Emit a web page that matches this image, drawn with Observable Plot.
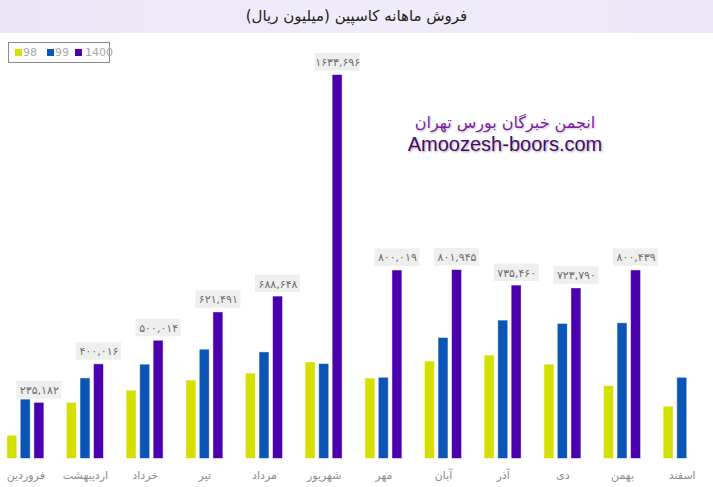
<!DOCTYPE html>
<html>
<head>
<meta charset="utf-8">
<script src="https://cdn.jsdelivr.net/npm/d3@7"></script>
<script src="https://cdn.jsdelivr.net/npm/@observablehq/plot@0.6"></script>
<style>
  body { margin: 0; background: #fff; }
  #wrap { position: relative; width: 713px; height: 487px; overflow: hidden; background: #fff; }
  #title { height: 33px; line-height: 33px; text-align: center; font-family: "DejaVu Sans", sans-serif; font-size: 15px; color: #222;
           background: linear-gradient(90deg, #ebe5f5, #f1ecf9 50%, #ece6f6); direction: rtl; }
  #legend { position: absolute; left: 8px; top: 42px; width: 100px; height: 19px; border: 1px solid #8a8a8a; background: #fff;
            font-family: "DejaVu Sans", sans-serif; font-size: 11px; color: #a8a8a8; }
  #legend span.sw { position: absolute; top: 6px; width: 7px; height: 7px; }
  #legend span.lb { position: absolute; top: 3px; line-height: 14px; }
  #wm { position: absolute; left: 400px; top: 112px; width: 210px; text-align: center; }
  #wm .fa { font-family: "DejaVu Sans", sans-serif; font-size: 16px; color: #7a1fa0; direction: rtl; line-height: 21px;
            text-shadow: 0 0 2px #fff, 1px 1px 2px #bbb; }
  #wm .en { font-family: "Liberation Sans", Arial, sans-serif; font-size: 20px; color: #45086f; line-height: 22px;
            text-shadow: 0 0 2px #fff, 1px 1px 2px #999; }
</style>
</head>
<body>
<div id="wrap">
  <div id="title"></div>
  <div id="chart"></div>
  <div id="legend"></div>
  <div id="wm"><div class="fa"></div><div class="en"></div></div>
</div>
<script>
const titleText = "فروش ماهانه کاسپین (میلیون ریال)";
const months = ["فروردین", "اردیبهشت", "خرداد", "تیر", "مرداد", "شهریور", "مهر", "آبان", "آذر", "دی", "بهمن", "اسفند"];
const seriesNames = ["98", "99", "1400"];
const seriesColors = ["#d6e000", "#0a55b6", "#4a00ae"];
const v98 = [95000, 235000, 287000, 331000, 360000, 408000, 339000, 411000, 437000, 398000, 307000, 219000];
const v99 = [249000, 340000, 398000, 462000, 451000, 401000, 342000, 512000, 586000, 572000, 575000, 342000];
const v1400 = [235182, 400016, 500014, 621491, 688648, 1633696, 800019, 801945, 735460, 723790, 800439, null];
const watermarkFa = "انجمن خبرگان بورس تهران";
const watermarkEn = "Amoozesh-boors.com";

const seriesValues = [v98, v99, v1400];
const rows = [];
months.forEach((m, i) => {
  seriesNames.forEach((s, j) => {
    const v = seriesValues[j][i];
    if (v != null) rows.push({month: m, series: s, value: v});
  });
});
const labelRows = rows.filter(d => d.series === "1400");

const faDigits = "۰۱۲۳۴۵۶۷۸۹";
const toFa = s => String(s).replace(/\d/g, d => faDigits[+d]);
const fmt = v => toFa(Math.floor(v / 1000) + "," + String(v % 1000).padStart(3, "0"));

document.getElementById("title").textContent = titleText;
document.querySelector("#wm .fa").textContent = watermarkFa;
document.querySelector("#wm .en").textContent = watermarkEn;

const legend = document.getElementById("legend");
const legendPos = [[6, 14], [38, 46], [66, 76]];
seriesNames.forEach((s, j) => {
  const sw = document.createElement("span");
  sw.className = "sw";
  sw.style.left = legendPos[j][0] + "px";
  sw.style.background = seriesColors[j];
  legend.appendChild(sw);
  const lb = document.createElement("span");
  lb.className = "lb";
  lb.style.left = legendPos[j][1] + "px";
  lb.textContent = s;
  legend.appendChild(lb);
});

const chart = Plot.plot({
  width: 713,
  height: 454,
  marginTop: 42,
  marginBottom: 29,
  marginLeft: 5,
  marginRight: 11,
  style: {fontFamily: "DejaVu Sans, sans-serif", fontSize: "11px", background: "transparent"},
  fx: {domain: months, paddingInner: 0.32, paddingOuter: 0, round: false, label: null, axis: "bottom", tickSize: 0, tickPadding: 13},
  x: {domain: seriesNames, paddingInner: 0.33, paddingOuter: 0.165, round: false, axis: null},
  y: {domain: [0, d3.max(v1400)], axis: null},
  color: {domain: seriesNames, range: seriesColors},
  marks: [
    Plot.barY(rows, {fx: "month", x: "series", y: "value", fill: "series", stroke: "series", strokeOpacity: 0.5, strokeWidth: 0.8}),
    Plot.barY(labelRows, {fx: "month", x: "series", y1: "value", y2: "value",
      insetTop: -22, insetBottom: 4.5, insetLeft: -18, insetRight: -18,
      fill: "#efefef", style: {filter: "drop-shadow(0px 1px 1px rgba(0,0,0,0.15))"}}),
    Plot.text(labelRows, {fx: "month", x: "series", y: "value", text: d => fmt(d.value), dy: -13, fill: "#6e6e6e", fontSize: 11})
  ]
});
chart.querySelectorAll("g[aria-label='fx-axis tick label'] text, g[aria-label='fx-axis'] text").forEach(t => t.setAttribute("fill", "#8c8c8c"));
document.getElementById("chart").appendChild(chart);
</script>
</body>
</html>
